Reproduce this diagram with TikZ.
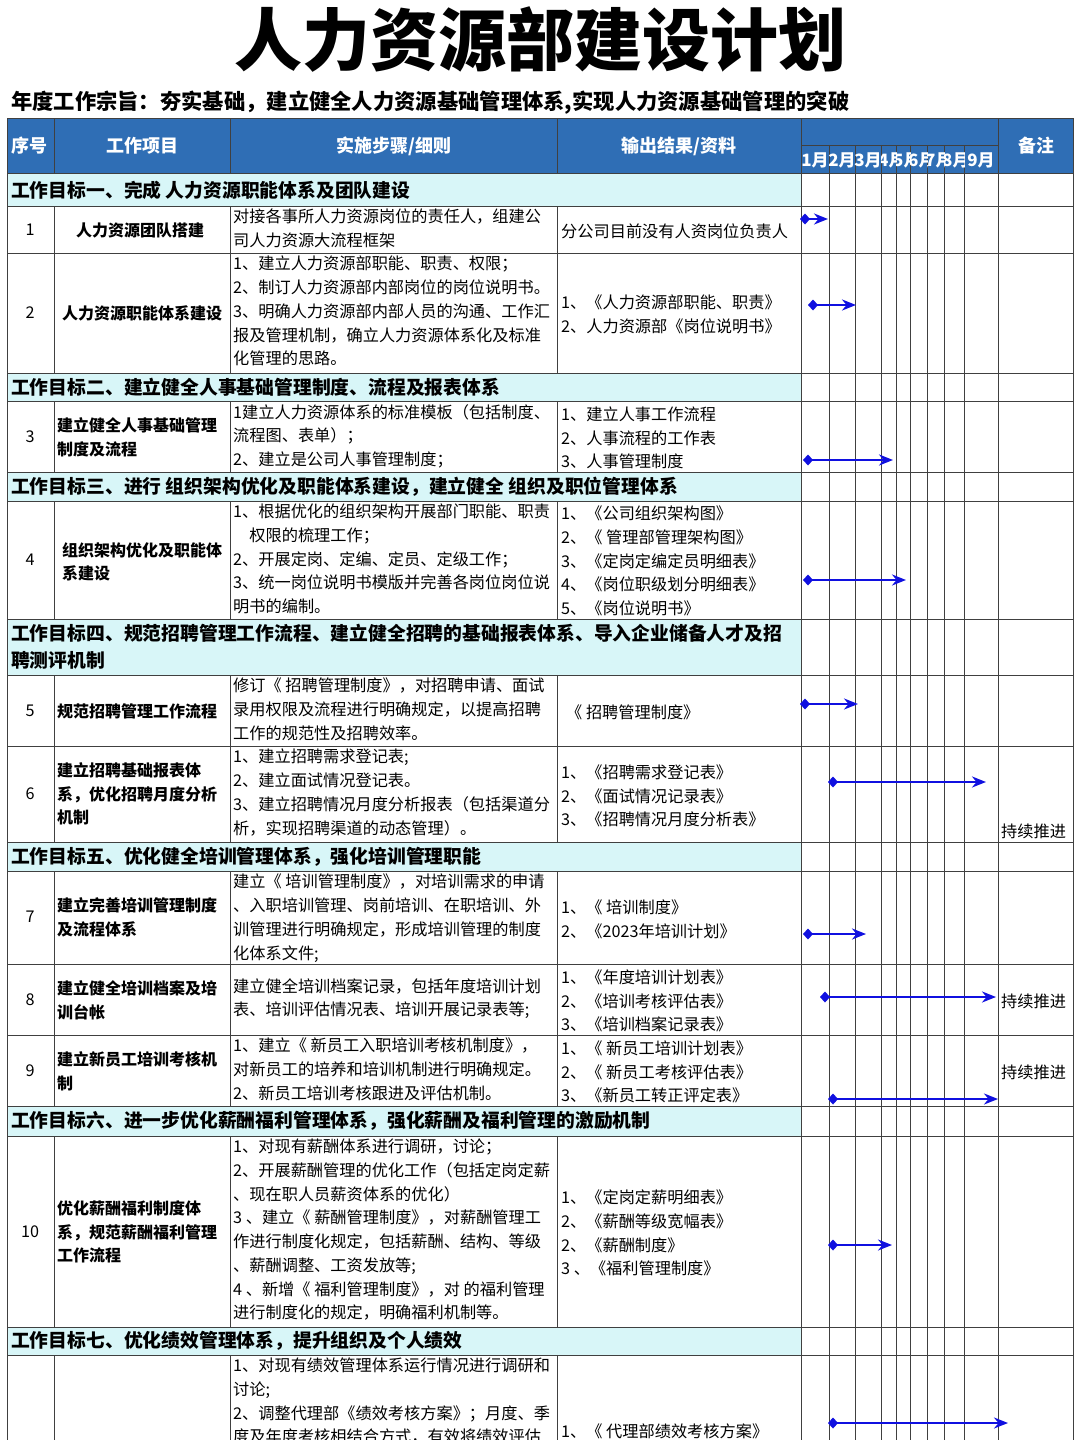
\documentclass[tikz,border=0pt]{standalone}
\usepackage{fontspec}
\setmainfont{Noto Sans CJK SC}
\usetikzlibrary{arrows.meta}
\definecolor{hdr}{HTML}{2F6EB5}
\definecolor{grp}{HTML}{D8F6F8}
\definecolor{arr}{HTML}{1010E0}
\tikzset{
 tx/.style={inner sep=0pt,align=left,font=\fontsize{16.2}{23.7}\selectfont},
 bx/.style={inner sep=0pt,align=left,font=\fontsize{16}{23.7}\selectfont\bfseries},
 gx/.style={inner sep=0pt,anchor=west,font=\fontsize{18.8}{27}\selectfont\bfseries},
 hx/.style={inner sep=0pt,text=white,font=\fontsize{18}{20}\selectfont\bfseries},
 mx/.style={inner sep=0pt,text=white,font=\fontsize{17}{18}\selectfont\bfseries},
 gl/.style={draw=black!75,line width=0.8pt},
 ga/.style={draw=arr,line width=2.2pt,{Diamond[length=10pt,width=11pt]}-{Stealth[length=14pt,width=11pt]}}
}
\begin{document}
\begin{tikzpicture}[x=1pt,y=-1pt]
\useasboundingbox (0,0) rectangle (1080,1440);
\clip (0,0) rectangle (1080,1440);
\fill[white] (0,0) rectangle (1080,1440);
\node[inner sep=0pt,font=\fontsize{68}{70}\selectfont\bfseries] (title) at (540,40) {人力资源部建设计划};
\node[inner sep=0pt,anchor=west,font=\fontsize{21.3}{24}\selectfont\bfseries] (aim) at (11,103) {年度工作宗旨：夯实基础，建立健全人力资源基础管理体系,实现人力资源基础管理的突破};
% header
\fill[hdr] (7,118) rectangle (1073,173);
% group rows
\foreach \a/\b in {173/206,373/401,472/501,619/675,842/871,1106/1136,1327/1355}{\fill[grp] (7,\a) rectangle (801,\b);}
% horizontal lines
\foreach \y in {118,173,206,253,373,401,472,501,619,675,746,842,871,964,1035,1106,1136,1327,1355}{\draw[gl] (7,\y) -- (1073,\y);}
\draw[gl] (801,145) -- (998,145);
% vertical lines full
\foreach \x in {7,801,998,1073}{\draw[gl] (\x,118) -- (\x,1440);}
\foreach \x in {829,855,881,896,910,927,944,964}{\draw[gl] (\x,145) -- (\x,1440);}
% inner columns except group rows
\foreach \a/\b in {118/173,206/373,401/472,501/619,675/842,871/1106,1136/1327,1355/1440}{
 \foreach \x in {54,230,557}{\draw[gl] (\x,\a) -- (\x,\b);}}
% header texts
\node[hx] (h1) at (30,146) {序号};
\node[hx] (h2) at (142,146) {工作项目};
\node[hx] (h3) at (394,146) {实施步骤/细则};
\node[hx] (h4) at (679,146) {输出结果/资料};
\node[hx] (h6) at (1036,146) {备注};
\node[mx] (m1) at (815,160) {1月};
\node[mx] (m2) at (842,160) {2月};
\node[mx] (m3) at (868,160) {3月};
\begin{scope}\clip (881,146) rectangle (896,172);
\node[mx,anchor=west] (m4) at (878,160) {4月};\end{scope}
\begin{scope}\clip (896,146) rectangle (910,172);
\node[mx,anchor=west] (m5) at (893,160) {5月};\end{scope}
\begin{scope}\clip (910,146) rectangle (927,172);
\node[mx,anchor=west] (m6) at (908,160) {6月};\end{scope}
\begin{scope}\clip (927,146) rectangle (944,172);
\node[mx,anchor=west] (m7) at (925,160) {7月};\end{scope}
\begin{scope}\clip (944,146) rectangle (964,172);
\node[mx,anchor=west] (m8) at (942,160) {8月};\end{scope}
\node[mx] (m9) at (981,160) {9月};
% group titles
\node[gx] (g1) at (11,190) {工作目标一、完成 人力资源职能体系及团队建设};
\node[gx] (g2) at (11,387) {工作目标二、建立健全人事基础管理制度、流程及报表体系};
\node[gx] (g3) at (11,487) {工作目标三、进行 组织架构优化及职能体系建设，建立健全 组织及职位管理体系};
\node[gx,align=left] (g4) at (11,647) {工作目标四、规范招聘管理工作流程、建立健全招聘的基础报表体系、导入企业储备人才及招\\聘测评机制};
\node[gx] (g5) at (11,857) {工作目标五、优化健全培训管理体系，强化培训管理职能};
\node[gx] (g6) at (11,1121) {工作目标六、进一步优化薪酬福利管理体系，强化薪酬及福利管理的激励机制};
\node[gx] (g7) at (11,1341) {工作目标七、优化绩效管理体系，提升组织及个人绩效};
% row numbers
\foreach \n/\y in {1/230,2/313,3/437,4/560,5/711,6/794,7/917,8/1000,9/1071,10/1232}{\node[tx] (n\n) at (30,\y) {\n};}
% column 2
\node[bx] (p1) at (140,230) {人力资源团队搭建};
\node[bx] (p2) at (142,313) {人力资源职能体系建设};
\node[bx] (p3) at (137,437) {建立健全人事基础管理\\制度及流程};
\node[bx] (p4) at (142,562) {组织架构优化及职能体\\系建设};
\node[bx] (p5) at (137,711) {规范招聘管理工作流程};
\node[bx] (p6) at (137,794) {建立招聘基础报表体\\系，优化招聘月度分析\\机制};
\node[bx] (p7) at (137,917) {建立完善培训管理制度\\及流程体系};
\node[bx] (p8) at (137,1000) {建立健全培训档案及培\\训台帐};
\node[bx] (p9) at (137,1071) {建立新员工培训考核机\\制};
\node[bx] (p10) at (137,1232) {优化薪酬福利制度体\\系，规范薪酬福利管理\\工作流程};
% column 3
\tikzset{c3/.style={tx,anchor=north west}}
\node[c3] (s1) at (233,209) {对接各事所人力资源岗位的责任人，组建公\\司人力资源大流程框架};
\node[c3] (s2) at (233,256) {1、建立人力资源部职能、职责、权限；\\2、制订人力资源部内部岗位的岗位说明书。\\3、明确人力资源部内部人员的沟通、工作汇\\报及管理机制，确立人力资源体系化及标准\\化管理的思路。};
\node[c3] (s3) at (233,404) {1建立人力资源体系的标准模板（包括制度、\\流程图、表单）；\\2、建立是公司人事管理制度；};
\node[c3] (s4) at (233,504) {1、根据优化的组织架构开展部门职能、职责\\\hspace*{1em}权限的梳理工作；\\2、开展定岗、定编、定员、定级工作；\\3、统一岗位说明书模版并完善各岗位岗位说\\明书的编制。};
\node[c3] (s5) at (233,678) {修订《 招聘管理制度》，对招聘申请、面试\\录用权限及流程进行明确规定，以提高招聘\\工作的规范性及招聘效率。};
\node[c3] (s6) at (233,749) {1、建立招聘需求登记表;\\2、建立面试情况登记表。\\3、建立招聘情况月度分析报表（包括渠道分\\析，实现招聘渠道的动态管理）。};
\node[c3] (s7) at (233,874) {建立《 培训管理制度》，对培训需求的申请\\、入职培训管理、岗前培训、在职培训、外\\训管理进行明确规定，形成培训管理的制度\\化体系文件;};
\node[c3] (s8) at (233,978) {建立健全培训档案记录，包括年度培训计划\\表、培训评估情况表、培训开展记录表等;};
\node[c3] (s9) at (233,1038) {1、建立《 新员工入职培训考核机制度》，\\对新员工的培养和培训机制进行明确规定。\\2、新员工培训考核跟进及评估机制。};
\node[c3] (s10) at (233,1139) {1、对现有薪酬体系进行调研，讨论；\\2、开展薪酬管理的优化工作（包括定岗定薪\\、现在职人员薪资体系的优化）\\3 、建立《 薪酬管理制度》，对薪酬管理工\\作进行制度化规定，包括薪酬、结构、等级\\、薪酬调整、工资发放等;\\4 、新增《 福利管理制度》，对 的福利管理\\进行制度化的规定，明确福利机制等。};
\node[c3] (s11) at (233,1358) {1、对现有绩效管理体系运行情况进行调研和\\讨论;\\2、调整代理部《绩效考核方案》；月度、季\\度及年度考核相结合方式，有效将绩效评估};
% column 4
\tikzset{c4/.style={tx,anchor=west}}
\node[c4] (o1) at (561,231) {分公司目前没有人资岗位负责人};
\node[c4] (o2) at (561,314) {1、《人力资源部职能、职责》\\2、人力资源部《岗位说明书》};
\node[c4] (o3) at (561,438) {1、建立人事工作流程\\2、人事流程的工作表\\3、人事管理制度};
\node[c4] (o4) at (561,561) {1、《公司组织架构图》\\2、《 管理部管理架构图》\\3、《定岗定编定员明细表》\\4、《岗位职级划分明细表》\\5、《岗位说明书》};
\node[c4] (o5) at (566,712) {《 招聘管理制度》};
\node[c4] (o6) at (561,796) {1、《招聘需求登记表》\\2、《面试情况记录表》\\3、《招聘情况月度分析表》};
\node[c4] (o7) at (561,919) {1、《 培训制度》\\2、《2023年培训计划》};
\node[c4] (o8) at (561,1001) {1、《年度培训计划表》\\2、《培训考核评估表》\\3、《培训档案记录表》};
\node[c4] (o9) at (561,1072) {1、《 新员工培训计划表》\\2、《 新员工考核评估表》\\3、《新员工转正评定表》};
\node[c4] (o10) at (561,1233) {1、《定岗定薪明细表》\\2、《薪酬等级宽幅表》\\2、《薪酬制度》\\3 、《福利管理制度》};
\node[tx,anchor=north west] (o11) at (561,1424) {1、《 代理部绩效考核方案》};
% remarks
\node[tx,anchor=west] (r6) at (1001,831) {持续推进};
\node[tx,anchor=west] (r8) at (1001,1001) {持续推进};
\node[tx,anchor=west] (r9) at (1001,1072) {持续推进};
% gantt arrows
\foreach \i/\a/\b/\y in {1/800/828/219,2/808/856/305,3/803/893/460,4/803/906/580,5/800/858/704,6/828/986/782,7/803/866/934,8/820/996/997,9/828/998/1099,10/828/892/1245,11/828/1008/1423}{
 \coordinate (a\i) at (\a,\y); \coordinate (b\i) at (\b,\y);
 \draw[ga] (a\i) -- (b\i);}
\end{tikzpicture}
\end{document}
